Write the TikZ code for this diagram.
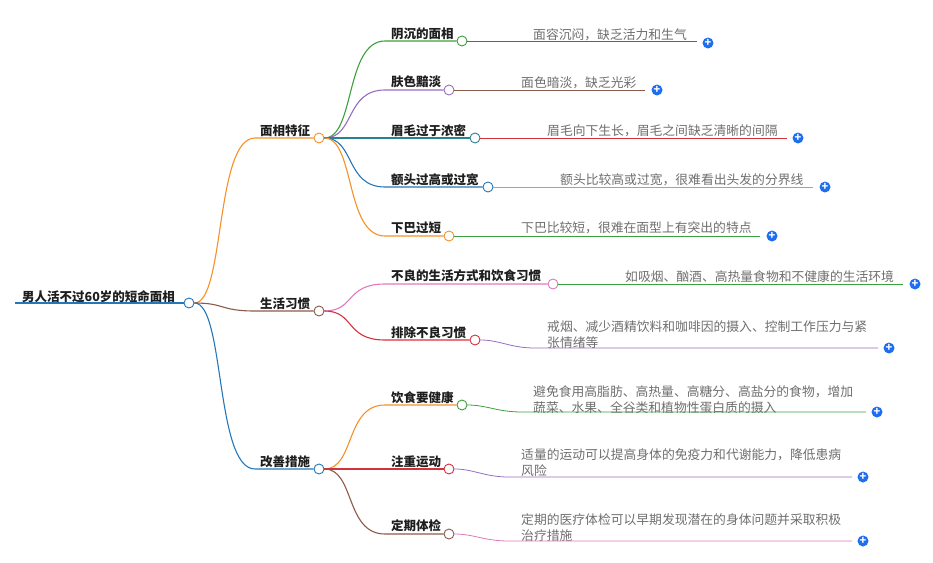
\documentclass[tikz,border=0pt]{standalone}
\usepackage{fontspec}
\setmainfont{Noto Sans CJK SC}
\usetikzlibrary{positioning}
\definecolor{line-blue}{RGB}{36,120,186}
\definecolor{line-orange}{RGB}{245,145,40}
\definecolor{line-brown}{RGB}{140,90,75}
\definecolor{line-green}{RGB}{60,160,60}
\definecolor{line-purple}{RGB}{150,110,190}
\definecolor{line-teal}{RGB}{40,130,150}
\definecolor{line-red}{RGB}{210,50,60}
\definecolor{line-pink}{RGB}{225,120,190}
\definecolor{plus-blue}{RGB}{30,110,240}
\definecolor{leaf-gray}{RGB}{110,110,110}
\definecolor{head-gray}{RGB}{30,30,30}

\tikzset{
    hub/.style={circle, draw=#1, fill=white, line width=0.9pt, minimum size=10pt, inner sep=0pt},
    branch/.style={draw=#1, line width=1.1pt},
    twig/.style={draw=#1, line width=0.8pt},
    headtext/.style={font=\bfseries\fontsize{12.5}{14}\selectfont, text=head-gray, anchor=base west, inner sep=0pt},
    leaftext/.style={font=\fontsize{12.8}{16.5}\selectfont, text=leaf-gray, anchor=south west, inner sep=0pt, align=left},
    plusdot/.style={circle, fill=plus-blue, minimum size=11pt, inner sep=0pt,
        text=white, font=\bfseries\fontsize{11}{11}\selectfont}
}
\newcommand{\plussign}{\raisebox{0.6pt}{+}}

\begin{document}
\begin{tikzpicture}[x=1pt, y=-1pt]
\useasboundingbox (0,0) rectangle (933,562);

% Root
\node[headtext] (root) at (22,301) {男人活不过60岁的短命面相};
\coordinate (rootstart) at (15,303);
\node[hub=line-blue] (rootdot) at (189,303) {};
\draw[branch=line-blue] (rootstart) -- (rootdot);

% Main branches
\node[headtext] (face) at (260,135) {面相特征};
\node[headtext] (life) at (260,308) {生活习惯};
\node[headtext] (fix) at (260,466) {改善措施};
\coordinate (face-in) at (255,138);
\coordinate (life-in) at (255,311);
\coordinate (fix-in) at (255,469);
\node[hub=line-orange] (facedot) at (319,138) {};
\node[hub=line-brown] (lifedot) at (319,311) {};
\node[hub=line-blue] (fixdot) at (319,469) {};
\draw[branch=line-orange] (rootdot.east) .. controls (225,303) and (215,138) .. (face-in) -- (facedot);
\draw[branch=line-brown] (rootdot.east) .. controls (225,303) and (220,311) .. (life-in) -- (lifedot);
\draw[branch=line-blue] (rootdot.east) .. controls (225,303) and (215,469) .. (fix-in) -- (fixdot);

% Face features
\node[headtext] (gloomy) at (391,38) {阴沉的面相};
\node[headtext] (dull) at (391,86) {肤色黯淡};
\node[headtext] (brow) at (391,135) {眉毛过于浓密};
\node[headtext] (forehead) at (391,184) {额头过高或过宽};
\node[headtext] (chin) at (391,232) {下巴过短};
\coordinate (gloomy-in) at (385,41);
\coordinate (dull-in) at (385,90);
\coordinate (brow-in) at (385,138);
\coordinate (forehead-in) at (385,187);
\coordinate (chin-in) at (385,236);
\node[hub=line-green] (gloomydot) at (462,41) {};
\node[hub=line-purple] (dulldot) at (449,90) {};
\node[hub=line-teal] (browdot) at (475,138) {};
\node[hub=line-blue] (foreheaddot) at (488,187) {};
\node[hub=line-orange] (chindot) at (449,236) {};
\draw[branch=line-green] (facedot.east) .. controls (355,138) and (345,41) .. (gloomy-in) -- (gloomydot);
\draw[branch=line-purple] (facedot.east) .. controls (355,138) and (345,90) .. (dull-in) -- (dulldot);
\draw[branch=line-teal] (facedot.east) -- (brow-in) -- (browdot);
\draw[branch=line-blue] (facedot.east) .. controls (355,138) and (345,187) .. (forehead-in) -- (foreheaddot);
\draw[branch=line-orange] (facedot.east) .. controls (355,138) and (345,236) .. (chin-in) -- (chindot);

% Life habits
\node[headtext] (badlife) at (391,280) {不良的生活方式和饮食习惯};
\node[headtext] (quit) at (391,337) {排除不良习惯};
\coordinate (badlife-in) at (385,284);
\coordinate (quit-in) at (385,340);
\node[hub=line-pink] (badlifedot) at (553,284) {};
\node[hub=line-red] (quitdot) at (475,340) {};
\draw[branch=line-pink] (lifedot.east) .. controls (355,311) and (345,284) .. (badlife-in) -- (badlifedot);
\draw[branch=line-red] (lifedot.east) .. controls (355,311) and (345,340) .. (quit-in) -- (quitdot);

% Improvements
\node[headtext] (diet) at (391,402) {饮食要健康};
\node[headtext] (sport) at (391,466) {注重运动};
\node[headtext] (check) at (391,530) {定期体检};
\coordinate (diet-in) at (385,405);
\coordinate (sport-in) at (385,469);
\coordinate (check-in) at (385,534);
\node[hub=line-green] (dietdot) at (462,405) {};
\node[hub=line-red] (sportdot) at (449,469) {};
\node[hub=line-brown] (checkdot) at (449,534) {};
\draw[branch=line-orange] (fixdot.east) .. controls (355,469) and (345,405) .. (diet-in) -- (dietdot);
\draw[branch=line-red] (fixdot.east) -- (sport-in) -- (sportdot);
\draw[branch=line-brown] (fixdot.east) .. controls (355,469) and (345,534) .. (check-in) -- (checkdot);

% Leaves
\node[leaftext] (gloomyleaf) at (533,41) {面容沉闷，缺乏活力和生气};
\node[plusdot] (gloomyplus) at (708,43) {\plussign};
\draw[twig=line-red] (gloomydot.east) -- (697,41);

\node[leaftext] (dullleaf) at (521,89) {面色暗淡，缺乏光彩};
\node[plusdot] (dullplus) at (657,90) {\plussign};
\draw[twig=line-brown] (dulldot.east) -- (645,90);

\node[leaftext] (browleaf) at (547,137) {眉毛向下生长，眉毛之间缺乏清晰的间隔};
\node[plusdot] (browplus) at (798,138) {\plussign};
\draw[twig=line-red] (browdot.east) -- (787,138);

\node[leaftext] (foreheadleaf) at (560,186) {额头比较高或过宽，很难看出头发的分界线};
\node[plusdot] (foreheadplus) at (825,187) {\plussign};
\draw[twig=line-orange] (foreheaddot.east) -- (813,187);

\node[leaftext] (chinleaf) at (521,234) {下巴比较短，很难在面型上有突出的特点};
\node[plusdot] (chinplus) at (772,236) {\plussign};
\draw[twig=line-green] (chindot.east) -- (760,236);

\node[leaftext] (badlifeleaf) at (625,283) {如吸烟、酗酒、高热量食物和不健康的生活环境};
\node[plusdot] (badlifeplus) at (915,284) {\plussign};
\draw[twig=line-green] (badlifedot.east) -- (903,284);

\node[leaftext] (quitleaf) at (547,349) {戒烟、减少酒精饮料和咖啡因的摄入、控制工作压力与紧\\张情绪等};
\node[plusdot] (quitplus) at (889,348) {\plussign};
\draw[twig=line-purple] (quitdot.east) .. controls (500,340) and (510,348) .. (535,348) -- (878,348);

\node[leaftext] (dietleaf) at (533,414) {避免食用高脂肪、高热量、高糖分、高盐分的食物，增加\\蔬菜、水果、全谷类和植物性蛋白质的摄入};
\node[plusdot] (dietplus) at (877,412) {\plussign};
\draw[twig=line-green] (dietdot.east) .. controls (487,405) and (497,412) .. (522,412) -- (866,412);

\node[leaftext] (sportleaf) at (521,477) {适量的运动可以提高身体的免疫力和代谢能力，降低患病\\风险};
\node[plusdot] (sportplus) at (863,477) {\plussign};
\draw[twig=line-purple] (sportdot.east) .. controls (474,469) and (484,477) .. (509,477) -- (852,477);

\node[leaftext] (checkleaf) at (521,542) {定期的医疗体检可以早期发现潜在的身体问题并采取积极\\治疗措施};
\node[plusdot] (checkplus) at (863,541) {\plussign};
\draw[twig=line-pink] (checkdot.east) .. controls (474,534) and (484,541) .. (509,541) -- (852,541);

\end{tikzpicture}
\end{document}
